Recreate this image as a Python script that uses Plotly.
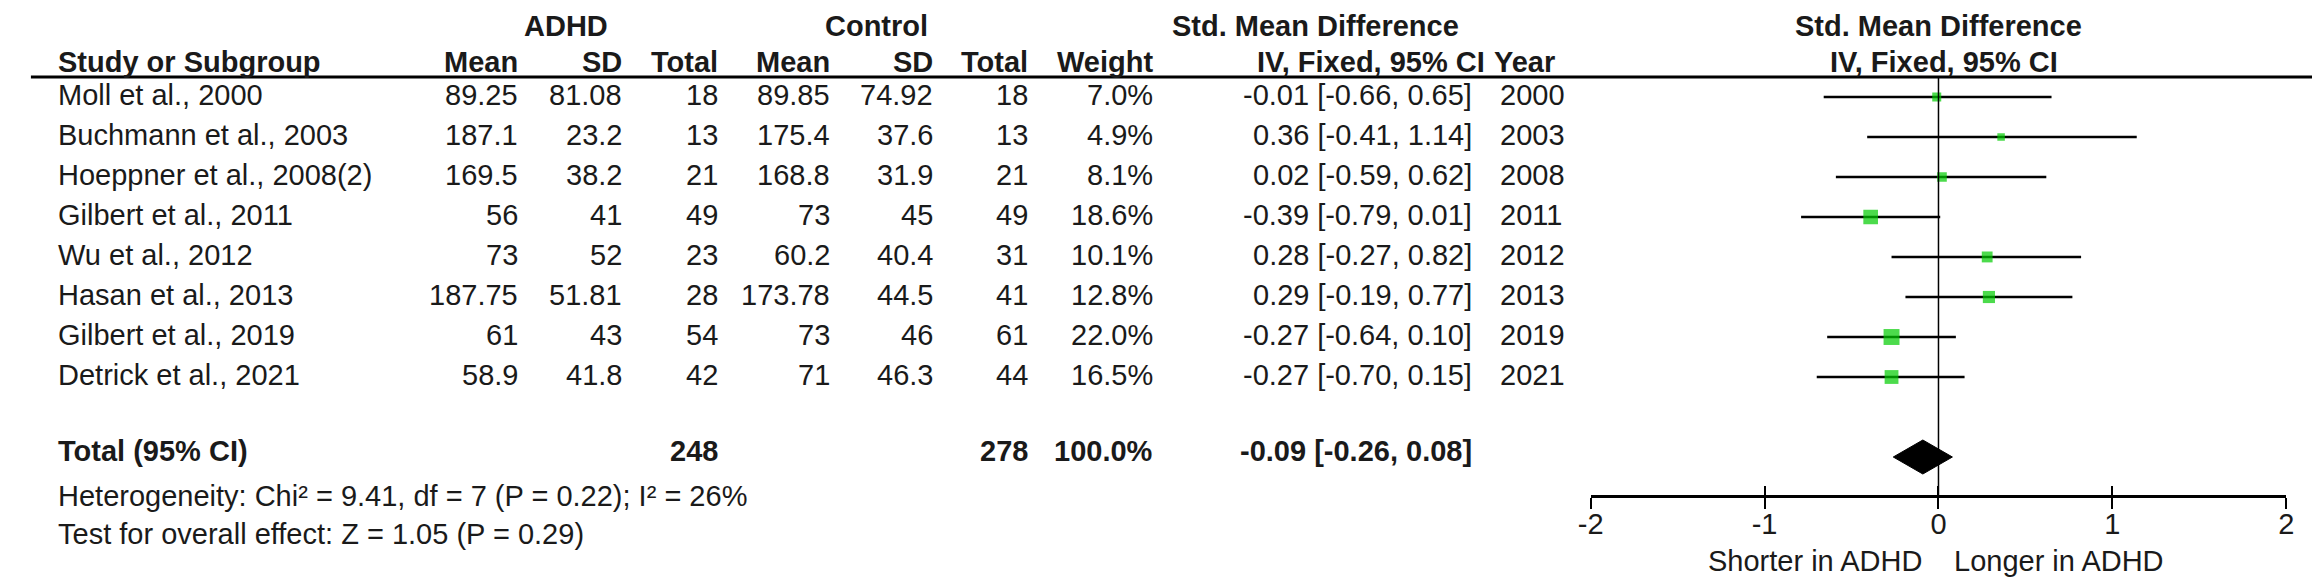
import math
import plotly.graph_objects as go

# Study rows
studies = ["Moll et al., 2000", "Buchmann et al., 2003", "Hoeppner et al., 2008(2)", "Gilbert et al., 2011",
           "Wu et al., 2012", "Hasan et al., 2013", "Gilbert et al., 2019", "Detrick et al., 2021"]
adhd_mean = [89.25, 187.1, 169.5, 56, 73, 187.75, 61, 58.9]
adhd_sd = [81.08, 23.2, 38.2, 41, 52, 51.81, 43, 41.8]
adhd_n = [18, 13, 21, 49, 23, 28, 54, 42]
ctrl_mean = [89.85, 175.4, 168.8, 73, 60.2, 173.78, 73, 71]
ctrl_sd = [74.92, 37.6, 31.9, 45, 40.4, 44.5, 46, 46.3]
ctrl_n = [18, 13, 21, 49, 31, 41, 61, 44]
weight = [7.0, 4.9, 8.1, 18.6, 10.1, 12.8, 22.0, 16.5]
smd = [-0.01, 0.36, 0.02, -0.39, 0.28, 0.29, -0.27, -0.27]
ci_low = [-0.66, -0.41, -0.59, -0.79, -0.27, -0.19, -0.64, -0.70]
ci_high = [0.65, 1.14, 0.62, 0.01, 0.82, 0.77, 0.10, 0.15]
years = [2000, 2003, 2008, 2011, 2012, 2013, 2019, 2021]

# Pooled result
total_adhd = 248
total_ctrl = 278
total_weight = 100.0
total_smd, total_low, total_high = -0.09, -0.26, 0.08
heterogeneity = "Heterogeneity: Chi² = 9.41, df = 7 (P = 0.22); I² = 26%"
overall_effect = "Test for overall effect: Z = 1.05 (P = 0.29)"
axis_ticks = [-2, -1, 0, 1, 2]

FONT = "Liberation Sans, Arial, sans-serif"
FS = 29
INK = "#1a1a1a"
W, H = 2320, 584
ROW0, ROWH = 89, 40          # pixel y of first row and row spacing

rows = list(range(len(studies)))
total_row = len(studies) + 1

# column right edges (px) for the table part
cols = {"mean1": 503, "sd1": 607, "n1": 704, "mean2": 817, "sd2": 921, "n2": 1017,
        "weight": 1143, "ci": 1465}


def ci_text(e, lo, hi):
    return f"{e:.2f} [{lo:.2f}, {hi:.2f}]"


fig = go.Figure()

# CI whiskers
xs, ys = [], []
for lo, hi, r in zip(ci_low, ci_high, rows):
    xs += [lo, hi, None]
    ys += [r, r, None]
fig.add_trace(go.Scatter(x=xs, y=ys, xaxis="x2", yaxis="y", mode="lines",
                         line=dict(color="black", width=2.5), hoverinfo="skip"))

# study squares, area ~ weight
fig.add_trace(go.Scatter(x=smd, y=rows, xaxis="x2", yaxis="y", mode="markers",
                         marker=dict(symbol="square", color="#00cc00",
                                     size=[3.4 * math.sqrt(w) for w in weight], line=dict(width=0))))

# pooled diamond
dh = 0.425
fig.add_trace(go.Scatter(x=[total_low, total_smd, total_high, total_smd, total_low],
                         y=[total_row, total_row - dh, total_row, total_row + dh, total_row],
                         xaxis="x2", yaxis="y", mode="lines", fill="toself",
                         fillcolor="black", line=dict(color="black", width=1)))

# dummy trace so the overlay axis with the upward ticks is drawn
fig.add_trace(go.Scatter(x=[0], y=[total_row], xaxis="x3", yaxis="y", mode="markers",
                         marker=dict(opacity=0), hoverinfo="skip"))

# line of no effect and header rule
fig.add_shape(type="line", xref="x2", yref="y", x0=0, x1=0, y0=-0.5, y1=(488 - ROW0) / ROWH,
              line=dict(color="black", width=1.5))
fig.add_shape(type="line", xref="x", yref="y", x0=10, x1=2318, y0=-0.5, y1=-0.5,
              line=dict(color="black", width=3))


def txt(x, y, s, anchor="right", bold=False, xref="x", xshift=0, yanchor="middle", yshift=2):
    fig.add_annotation(x=x, y=y, xref=xref, yref="y", text=f"<b>{s}</b>" if bold else s,
                       showarrow=False, xanchor=anchor, yanchor=yanchor, yshift=yshift,
                       xshift=xshift, borderpad=0,
                       font=dict(family=FONT, size=FS, color=INK))


# headers
top, h2 = -ROW0 / ROWH, (57 - ROW0) / ROWH
for x, lab, ref in [(550, "ADHD", "x"), (863, "Control", "x"),
                    (1306, "Std. Mean Difference", "x"), (0, "Std. Mean Difference", "x2")]:
    txt(x, top, lab, "center", True, xref=ref, yanchor="top", yshift=-1)
txt(36, h2, "Study or Subgroup", "left", True, yshift=3)
for key, lab in [("mean1", "Mean"), ("sd1", "SD"), ("n1", "Total"), ("mean2", "Mean"),
                 ("sd2", "SD"), ("n2", "Total"), ("weight", "Weight")]:
    txt(cols[key], h2, lab, "right", True, yshift=3)
txt(1478, h2, "IV, Fixed, 95% CI", "right", True, yshift=3)
txt(1485, h2, "Year", "left", True, yshift=3)
txt(0.03, h2, "IV, Fixed, 95% CI", "center", True, xref="x2", yshift=3)

# study rows
for i in rows:
    txt(36, i, studies[i], "left")
    txt(cols["mean1"], i, str(adhd_mean[i]))
    txt(cols["sd1"], i, str(adhd_sd[i]))
    txt(cols["n1"], i, str(adhd_n[i]))
    txt(cols["mean2"], i, str(ctrl_mean[i]))
    txt(cols["sd2"], i, str(ctrl_sd[i]))
    txt(cols["n2"], i, str(ctrl_n[i]))
    txt(cols["weight"], i, f"{weight[i]:.1f}%")
    txt(cols["ci"], i, ci_text(smd[i], ci_low[i], ci_high[i]))
    txt(1492, i, str(years[i]), "left")

# totals
txt(36, total_row, "Total (95% CI)", "left", True, yshift=6)
txt(cols["n1"], total_row, str(total_adhd), "right", True, yshift=6)
txt(cols["n2"], total_row, str(total_ctrl), "right", True, yshift=6)
txt(cols["weight"], total_row, f"{total_weight:.1f}%", "right", True, yshift=6)
txt(cols["ci"], total_row, ci_text(total_smd, total_low, total_high), "right", True, yshift=6)
txt(36, (491 - ROW0) / ROWH, heterogeneity, "left", yshift=3)
txt(36, (529 - ROW0) / ROWH, overall_effect, "left", yshift=3)

# favours labels
txt(0, (557 - ROW0) / ROWH, "Shorter in ADHD", "right", xref="x2", xshift=-15, yshift=4)
txt(0, (557 - ROW0) / ROWH, "Longer in ADHD", "left", xref="x2", xshift=15, yshift=4)

axis_pos = (H - 488) / H
fig.update_layout(
    width=W, height=H, margin=dict(l=0, r=0, t=0, b=0),
    paper_bgcolor="white", plot_bgcolor="white", showlegend=False,
    font=dict(family=FONT, size=FS, color=INK),
    xaxis=dict(range=[0, W], domain=[0, 1], visible=False),
    xaxis2=dict(range=[-2, 2], domain=[1584 / W, 2286 / W], anchor="free", position=axis_pos,
                showline=True, linecolor="black", linewidth=3, ticks="outside", ticklen=11,
                tickwidth=2, tickcolor="black", tickvals=axis_ticks,
                ticktext=[str(t) for t in axis_ticks], ticklabelstandoff=-10,
                tickfont=dict(family=FONT, size=FS, color=INK),
                showgrid=False, zeroline=False, fixedrange=True),
    xaxis3=dict(range=[-2, 2], overlaying="x2", anchor="free", position=axis_pos,
                showline=False, ticks="inside", ticklen=10, tickwidth=2, tickcolor="black",
                tickvals=axis_ticks, showticklabels=False, showgrid=False, zeroline=False),
    yaxis=dict(range=[(H - ROW0) / ROWH, -ROW0 / ROWH], visible=False, fixedrange=True),
)

fig.write_html("out.html")
